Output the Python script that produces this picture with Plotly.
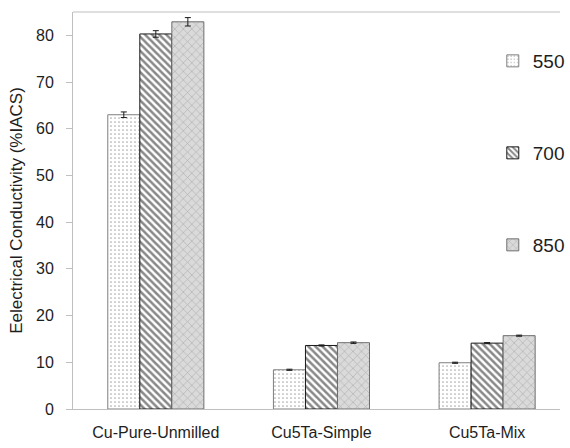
import plotly.graph_objects as go

categories = ["Cu-Pure-Unmilled", "Cu5Ta-Simple", "Cu5Ta-Mix"]
temperatures = ["550", "700", "850"]
values_550 = [63.0, 8.4, 9.9]
values_700 = [80.3, 13.6, 14.1]
values_850 = [82.9, 14.2, 15.7]
errors_550 = [0.6, 0.12, 0.12]
errors_700 = [0.7, 0.12, 0.12]
errors_850 = [0.9, 0.15, 0.12]

FONT = "Liberation Sans, Arial, sans-serif"
TEXT = "#1e1e1e"
AXIS = "#bfbfbf"

styles = [
    dict(color="white", line=dict(color="#7f7f7f", width=1),
         pattern=dict(shape=".", fgcolor="#555555", bgcolor="white", size=4, solidity=0.15)),
    dict(color="white", line=dict(color="#1a1a1a", width=1),
         pattern=dict(shape="\\", fgcolor="#111111", bgcolor="white", size=5, solidity=0.5)),
    dict(color="#d6d6d6", line=dict(color="#6e6e6e", width=1),
         pattern=dict(shape="x", fgcolor="#8a8a8a", bgcolor="#dadada", size=6, solidity=0.22)),
]

series = [values_550, values_700, values_850]
errs = [errors_550, errors_700, errors_850]
legend_ids = ["legend", "legend2", "legend3"]

fig = go.Figure()
for name, vals, err, st, lg in zip(temperatures, series, errs, styles, legend_ids):
    fig.add_trace(go.Bar(
        x=categories, y=vals, name=name, legend=lg,
        marker=st,
        error_y=dict(type="data", array=err, visible=True,
                     color="#1a1a1a", thickness=1, width=3),
    ))

legend_y = [61, 153, 245]
legend_common = dict(font=dict(family=FONT, size=19, color=TEXT),
                     bgcolor="rgba(0,0,0,0)", xanchor="left", yanchor="middle",
                     itemwidth=30)
layout_legends = {}
for lg, ypx in zip(legend_ids, legend_y):
    layout_legends[lg] = dict(legend_common, x=0.862, y=1 - (ypx - 12) / (409 - 12))

fig.update_layout(
    width=570, height=448,
    margin=dict(l=73, r=0, t=12, b=39),
    paper_bgcolor="white", plot_bgcolor="white",
    barmode="group", bargap=0.42, bargroupgap=0,
    showlegend=True,
    font=dict(family=FONT, color=TEXT),
    xaxis=dict(
        range=[-0.5, 2.44], showline=True, linecolor=AXIS, linewidth=1,
        ticks="", showgrid=False, tickfont=dict(family=FONT, size=16, color=TEXT),
        ticklabelstandoff=9,
    ),
    yaxis=dict(
        range=[0, 85], tickvals=[0, 10, 20, 30, 40, 50, 60, 70, 80],
        showline=True, linecolor=AXIS, linewidth=1, ticks="outside",
        ticklen=6, tickcolor=AXIS, showgrid=False, zeroline=False,
        tickfont=dict(family=FONT, size=16, color=TEXT), ticklabelstandoff=9,
        title=dict(text="Eelectrical Conductivity (%IACS)",
                   font=dict(family=FONT, size=17, color=TEXT), standoff=9),
    ),
    shapes=[dict(type="line", xref="paper", yref="paper", x0=0, x1=1, y0=1, y1=1,
                 line=dict(color=AXIS, width=1))],
    **layout_legends,
)

fig.write_html("out.html")
